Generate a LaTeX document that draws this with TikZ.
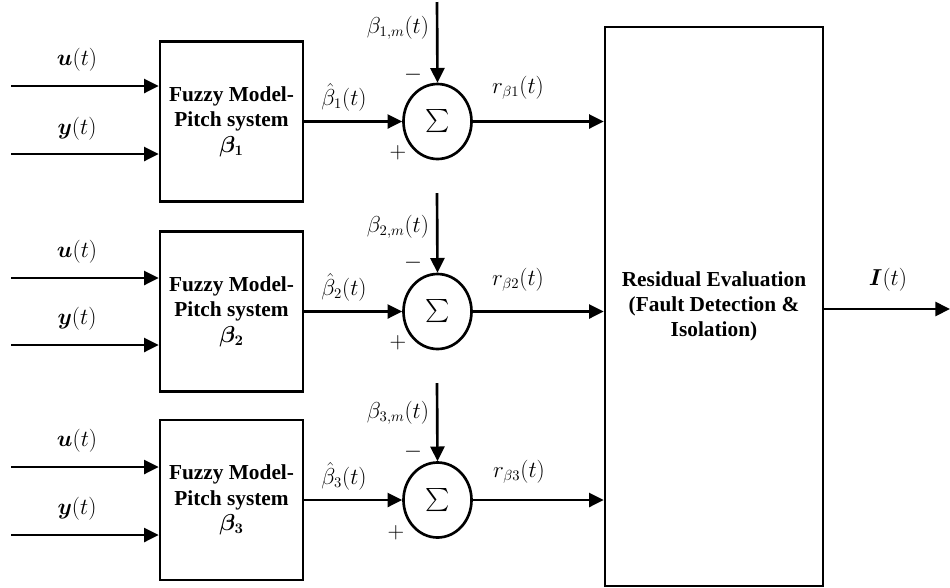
\documentclass[tikz,border=0pt]{standalone}
\usepackage{amsmath}
\usepackage{bm}
\usepackage[no-math]{fontspec}
\setmainfont{Liberation Serif}
\usetikzlibrary{shapes.geometric,arrows.meta}
\begin{document}
\begin{tikzpicture}[x=0.75pt,y=-0.75pt,line width=2pt,
  font=\fontsize{16}{19}\selectfont,
  arr/.style={-{Triangle[length=11pt,width=10.5pt]}},
  fmbox/.style={draw,rectangle,minimum width=107.25pt,minimum height=120pt,inner sep=0pt,align=center,
    font=\bfseries\fontsize{16}{19}\selectfont},
  resbox/.style={draw,rectangle,minimum width=163.5pt,minimum height=419.25pt,inner sep=0pt,align=center,
    font=\bfseries\fontsize{16}{19}\selectfont},
  sumnode/.style={draw,ellipse,minimum width=51pt,minimum height=56.25pt,inner sep=0pt},
  lab/.style={inner sep=0pt}]
\useasboundingbox (0,0) rectangle (950,587);

% fuzzy model boxes
\node[fmbox] (f1) at (231.5,121.5) {Fuzzy Model-\\Pitch system\\$\bm{\beta_1}$};
\node[fmbox] (f2) at (231.5,311.5) {Fuzzy Model-\\Pitch system\\$\bm{\beta_2}$};
\node[fmbox] (f3) at (231.5,500) {Fuzzy Model-\\Pitch system\\$\bm{\beta_3}$};

% summation junctions
\node[sumnode] (s1) at (437.5,121.5) {$\textstyle\sum$};
\node[sumnode] (s2) at (437.5,311.5) {$\textstyle\sum$};
\node[sumnode] (s3) at (437.5,500) {$\textstyle\sum$};

% residual evaluation
\node[resbox] (R) at (714,306.5) {Residual Evaluation\\(Fault Detection \&\\Isolation)};

% input start coordinates
\coordinate (u1) at (11,86);  \coordinate (y1) at (11,154);
\coordinate (u2) at (11,278); \coordinate (y2) at (11,345);
\coordinate (u3) at (11,467); \coordinate (y3) at (11,535);
% measurement start coordinates
\coordinate (m1) at (437,2);
\coordinate (m2) at (437,193);
\coordinate (m3) at (437,383);
\coordinate (out) at (950,309);

% inputs
\draw[arr] (u1) -- (u1 -| f1.west);
\draw[arr] (y1) -- (y1 -| f1.west);
\draw[arr] (u2) -- (u2 -| f2.west);
\draw[arr] (y2) -- (y2 -| f2.west);
\draw[arr] (u3) -- (u3 -| f3.west);
\draw[arr] (y3) -- (y3 -| f3.west);

% model outputs to sums
\draw[arr] (f1.east) -- (s1.west);
\draw[arr] (f2.east) -- (s2.west);
\draw[arr] (f3.east) -- (s3.west);

% measurements into sums
\draw[arr] (m1) -- (s1.north);
\draw[arr] (m2) -- (s2.north);
\draw[arr] (m3) -- (s3.north);

% residuals
\draw[arr] (s1.east) -- (s1.east -| R.west);
\draw[arr] (s2.east) -- (s2.east -| R.west);
\draw[arr] (s3.east) -- (s3.east -| R.west);

% output
\draw[arr] (out -| R.east) -- (out);

% labels
\node[lab] (lu1) at (77,60) {$\bm{u}(t)$};
\node[lab] (ly1) at (77,129) {$\bm{y}(t)$};
\node[lab] (lu2) at (77,252) {$\bm{u}(t)$};
\node[lab] (ly2) at (77,319) {$\bm{y}(t)$};
\node[lab] (lu3) at (77,441) {$\bm{u}(t)$};
\node[lab] (ly3) at (77,509) {$\bm{y}(t)$};

\node[lab] (lh1) at (344,97) {$\hat{\beta}_1(t)$};
\node[lab] (lh2) at (344,287) {$\hat{\beta}_2(t)$};
\node[lab] (lh3) at (344,476) {$\hat{\beta}_3(t)$};

\node[lab] (lm1) at (398,28) {$\beta_{1,m}(t)$};
\node[lab] (lm2) at (398,227) {$\beta_{2,m}(t)$};
\node[lab] (lm3) at (398,413) {$\beta_{3,m}(t)$};

\node[lab] (mi1) at (413,75) {$-$};
\node[lab] (mi2) at (413,263) {$-$};
\node[lab] (mi3) at (413,452) {$-$};
\node[lab] (pl1) at (398,153) {$+$};
\node[lab] (pl2) at (398,343) {$+$};
\node[lab] (pl3) at (396,533) {$+$};

\node[lab] (lr1) at (518,88) {$r_{\beta 1}(t)$};
\node[lab] (lr2) at (518,280) {$r_{\beta 2}(t)$};
\node[lab] (lr3) at (519,472) {$r_{\beta 3}(t)$};

\node[lab] (lI) at (888,280) {$\bm{I}(t)$};
\end{tikzpicture}
\end{document}
